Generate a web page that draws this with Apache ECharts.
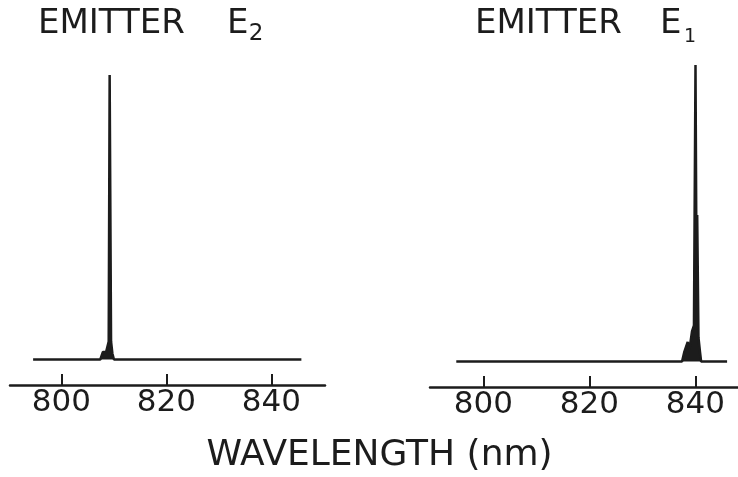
<!DOCTYPE html>
<html><head><meta charset="utf-8">
<script src="https://cdn.jsdelivr.net/npm/echarts@6/dist/echarts.min.js"></script>
<style>html,body{margin:0;padding:0;background:#fff}#c{width:738px;height:477px}</style>
</head><body><div id="c"></div>
<script>
// Tick labels (nm)
const tickValues = [800, 820, 840];
// Emitter E2 spectrum (wavelength nm, relative intensity)
const e2Wavelength = [794.6, 807.4, 807.9, 808.5, 809.0, 809.18, 809.45, 809.7, 810.0, 845.7];
const e2Intensity  = [0, 0, 2.5, 2.5, 6, 94.8, 6, 2, 0, 0];
// Emitter E1 spectrum
const e1Wavelength = [794.9, 837.5, 837.9, 838.57, 838.9, 839.38, 839.75, 840.04, 840.23, 840.36, 840.6, 840.9, 841.1, 846.0];
const e1Intensity  = [0, 0, 3, 6.5, 4, 10, 12, 98.8, 30, 48.8, 8, 3, 0, 0];

const ink = '#1c1c1c';
const font = 'DejaVu Sans';

function pairs(xs, ys) { return xs.map((x, i) => [x, ys[i]]); }

function xAxisFor(gridIndex, min, max) {
  return {
    type: 'value', gridIndex, min, max,
    axisLine: { show: true, onZero: false, lineStyle: { color: ink, width: 2.5 } },
    axisTick: { show: true, inside: true, length: 11, customValues: tickValues, lineStyle: { color: ink, width: 2 } },
    axisLabel: { show: true, customValues: tickValues, color: ink, fontSize: 31, fontFamily: font, margin: 2 },
    splitLine: { show: false }
  };
}
function yAxisFor(gridIndex) {
  return { type: 'value', gridIndex, min: -8.5, max: 100, show: false, splitLine: { show: false } };
}
function seriesFor(idx, data) {
  return {
    type: 'line', xAxisIndex: idx, yAxisIndex: idx, data, symbol: 'none', showSymbol: false,
    lineStyle: { color: ink, width: 2.5, join: 'bevel' },
    areaStyle: { color: ink, opacity: 1, origin: 0 },
    silent: true
  };
}

function title(x, gap, sub, subX, subY, subSize) {
  return [
    { type: 'text', x: x, y: 24, style: {
        text: 'EMITTER{g| }E', fill: ink, font: '34px ' + font, textVerticalAlign: 'middle',
        rich: { g: { width: gap, fontSize: 34, fontFamily: font } }
    } },
    { type: 'text', x: subX, y: subY, style: {
        text: sub, fill: ink, font: subSize + 'px ' + font, textAlign: 'center', textVerticalAlign: 'middle'
    } }
  ];
}

const chart = echarts.init(document.getElementById('c'));
chart.setOption({
  animation: false,
  backgroundColor: '#ffffff',
  grid: [
    { left: 10, width: 315, top: 59.5, height: 325.5 },
    { left: 430, width: 308, top: 61.5, height: 325.5 }
  ],
  xAxis: [xAxisFor(0, 790.2, 850.2), xAxisFor(1, 789.94, 848.06)],
  yAxis: [yAxisFor(0), yAxisFor(1)],
  series: [seriesFor(0, pairs(e2Wavelength, e2Intensity)), seriesFor(1, pairs(e1Wavelength, e1Intensity))],
  graphic: [].concat(
    title(38, 42, '2', 256, 34, 23),
    title(475, 38, '1', 690, 37, 19),
    [{ type: 'text', x: 379.5, y: 456, style: {
        text: 'WAVELENGTH (nm)', fill: ink, font: '36px ' + font, textAlign: 'center', textVerticalAlign: 'middle'
    } }]
  )
});
</script>
</body></html>
